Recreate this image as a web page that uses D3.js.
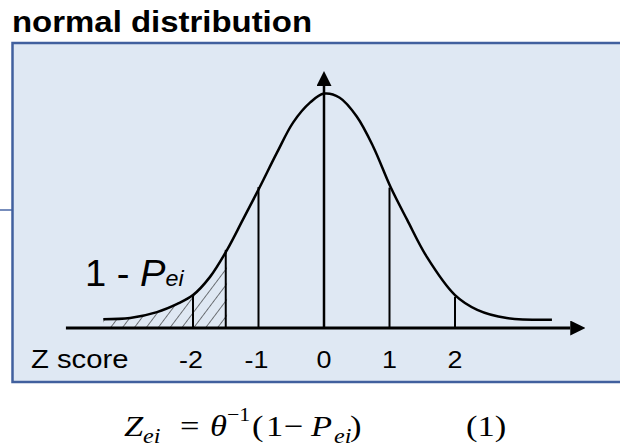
<!DOCTYPE html>
<html>
<head>
<meta charset="utf-8">
<script src="https://cdn.jsdelivr.net/npm/d3@7"></script>
<style>
  body { margin: 0; background: #fff; }
  svg { display: block; }
</style>
</head>
<body>
<svg id="chart" width="620" height="447"></svg>
<script>
// curve (z score, density)
const curveZ = [-3.37, -2.96, -2.55, -2.24, -2.0, -1.74, -1.48, -1.24, -0.98, -0.72, -0.47, -0.21, 0,
  0.24, 0.50, 0.75, 1.02, 1.27, 1.57, 2.0, 2.34, 2.79, 3.48];
const curveDensity = [0.015, 0.017, 0.027, 0.041, 0.056, 0.087, 0.133, 0.184, 0.240, 0.298, 0.350, 0.384, 0.399,
  0.392, 0.360, 0.309, 0.239, 0.184, 0.121, 0.056, 0.031, 0.017, 0.014];

// vertical guide lines under the curve
const guideZ = [-2, -1.5, -1, 1, 2];
const guideHeight = [0.056, 0.133, 0.240, 0.239, 0.053];

// tick labels
const tickZ = [-2, -1, 0, 1, 2];
const tickLabels = ["-2", "-1", "0", "1", "2"];

// shaded tail: 1 - Pei
const tailFrom = -3.37;
const tailTo = -1.48;

const svg = d3.select("#chart");
const sans = "'Liberation Sans', Arial, sans-serif";
const serif = "'Liberation Serif', 'Times New Roman', serif";

const x = d3.scaleLinear().domain([-4, 4]).range([62, 586]);
const y = d3.scaleLinear().domain([0, 0.4]).range([328, 93]);

const points = curveZ.map((z, i) => [z, curveDensity[i]]);

// defs: arrows, hatch, clip
const defs = svg.append("defs");
defs.append("marker")
  .attr("id", "arrow")
  .attr("viewBox", "0 0 15 15")
  .attr("refX", 0).attr("refY", 7.5)
  .attr("markerWidth", 15).attr("markerHeight", 15)
  .attr("markerUnits", "userSpaceOnUse")
  .attr("orient", "auto")
  .append("path").attr("d", "M0,0 L15,7.5 L0,15 Z").attr("fill", "#000");

const hatch = defs.append("pattern")
  .attr("id", "hatch")
  .attr("patternUnits", "userSpaceOnUse")
  .attr("width", 9.5).attr("height", 9.5)
  .attr("patternTransform", "rotate(37)");
hatch.append("line")
  .attr("x1", 0).attr("y1", 0).attr("x2", 0).attr("y2", 9.5)
  .attr("stroke", "#111").attr("stroke-width", 1.1);

const area = d3.area()
  .x(d => x(d[0])).y0(y(0)).y1(d => y(d[1]))
  .curve(d3.curveCatmullRom.alpha(0.5));

defs.append("clipPath").attr("id", "underCurve")
  .append("path").attr("d", area(points));

// title
svg.append("text")
  .attr("x", 12).attr("y", 32)
  .attr("textLength", 300).attr("lengthAdjust", "spacingAndGlyphs")
  .style("font-family", sans).style("font-weight", "bold").style("font-size", "30px")
  .text("normal distribution");

// panel
svg.append("line")
  .attr("x1", 0).attr("x2", 12).attr("y1", 210).attr("y2", 210)
  .attr("stroke", "#4a67a6").attr("stroke-width", 1.5);

svg.append("rect")
  .attr("x", 12.5).attr("y", 43)
  .attr("width", 700).attr("height", 339)
  .attr("fill", "#dfe8f3")
  .attr("stroke", "#41609e").attr("stroke-width", 2.5);

// hatched tail
svg.append("rect")
  .attr("x", x(tailFrom)).attr("y", y(0.2))
  .attr("width", x(tailTo) - x(tailFrom)).attr("height", y(0) - y(0.2))
  .attr("fill", "url(#hatch)")
  .attr("clip-path", "url(#underCurve)");

// guide lines
svg.selectAll(".guide")
  .data(guideZ)
  .join("line")
  .attr("class", "guide")
  .attr("x1", d => x(d)).attr("x2", d => x(d))
  .attr("y1", y(0)).attr("y2", (d, i) => y(guideHeight[i]))
  .attr("stroke", "#000").attr("stroke-width", 2);

// curve
svg.append("path")
  .datum(points)
  .attr("d", d3.line().x(d => x(d[0])).y(d => y(d[1])).curve(d3.curveCatmullRom.alpha(0.5)))
  .attr("fill", "none")
  .attr("stroke", "#000").attr("stroke-width", 2.5);

// axes with arrows
svg.append("line")
  .attr("x1", x(-3.94)).attr("x2", x(3.76))
  .attr("y1", y(0)).attr("y2", y(0))
  .attr("stroke", "#000").attr("stroke-width", 3)
  .attr("marker-end", "url(#arrow)");

svg.append("line")
  .attr("x1", x(0)).attr("x2", x(0))
  .attr("y1", y(0)).attr("y2", y(0.412))
  .attr("stroke", "#000").attr("stroke-width", 2.5)
  .attr("marker-end", "url(#arrow)");

// text stretched sideways like the reference
function stretched(px, py, size, anchor, sx, family) {
  return svg.append("text")
    .attr("transform", `translate(${px},${py}) scale(${sx},1)`)
    .attr("text-anchor", anchor)
    .style("font-family", family || sans).style("font-size", size + "px")
    .attr("fill", "#000");
}

tickZ.forEach((z, i) => {
  stretched(x(z) - (tickLabels[i].startsWith("-") ? 2 : 0), 368, 24, "middle", 1.12).text(tickLabels[i]);
});
stretched(31, 368, 25, "start", 1.17).text("Z score");

// 1 - Pei label
const lab = stretched(85, 286, 36, "start", 1.06);
lab.append("tspan").text("1 - ");
lab.append("tspan").style("font-style", "italic").text("P");
lab.append("tspan").style("font-style", "italic").style("font-size", "22px").text("ei");

// formula
function piece(px, py, size, italic, str) {
  stretched(px, py, size, "start", 1.15, serif)
    .style("font-style", italic ? "italic" : "normal")
    .text(str);
}
piece(124, 436, 30, true, "Z");
piece(143, 443, 21, true, "ei");
piece(180, 436, 30, false, "=");
piece(210, 436, 30, true, "θ");
piece(227, 421, 19, false, "−1");
piece(252, 436, 30, false, "(");
piece(266, 436, 30, false, "1");
piece(284, 436, 30, false, "−");
piece(311, 436, 30, true, "P");
piece(334, 443, 21, true, "ei");
piece(350, 436, 30, false, ")");
piece(466, 436, 30, false, "(1)");
</script>
</body>
</html>
